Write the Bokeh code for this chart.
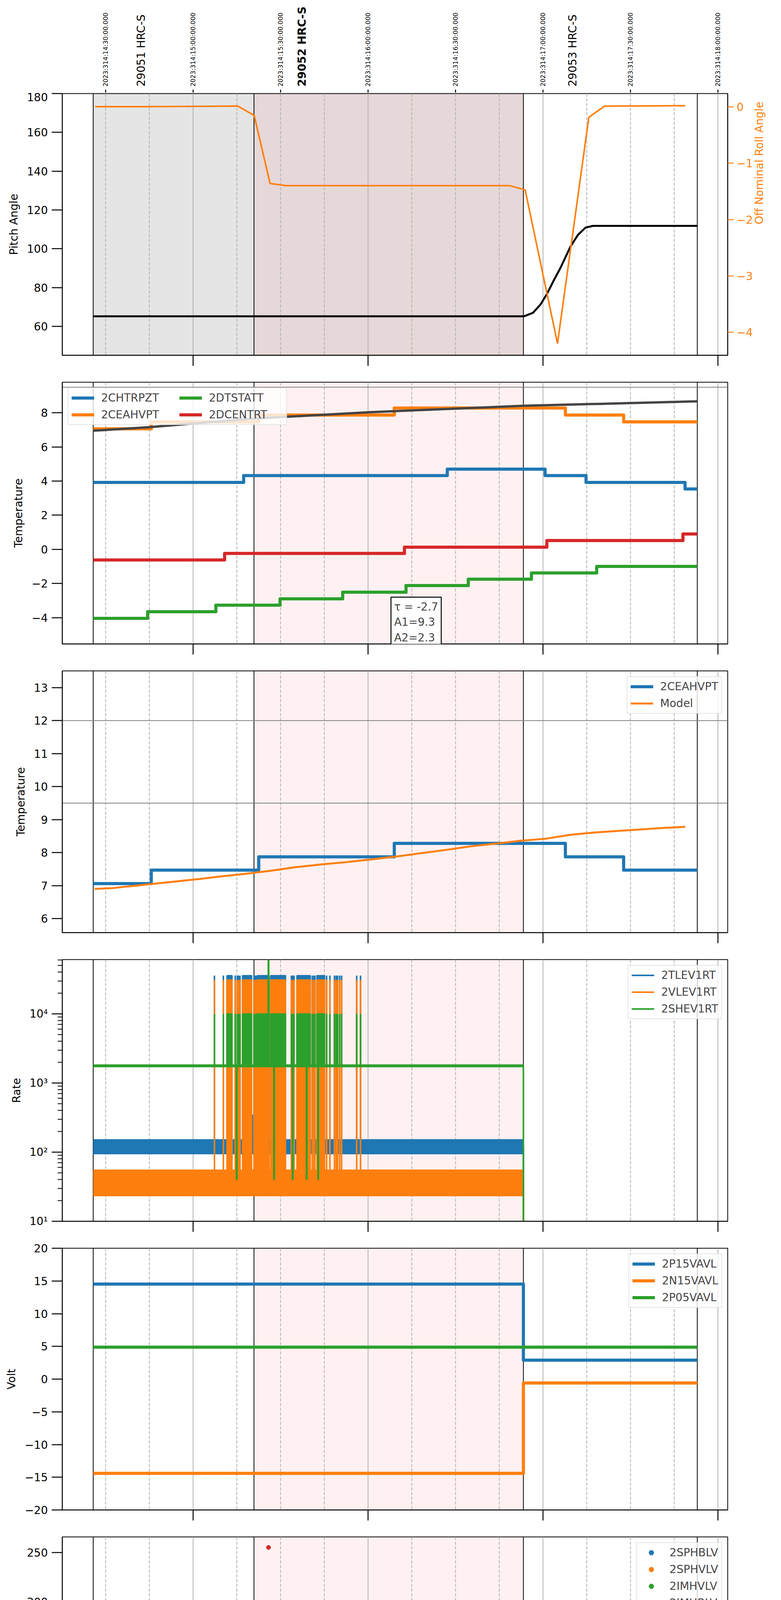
import math
from bokeh.plotting import figure
from bokeh.layouts import column
from bokeh.models import (Range1d, LinearAxis, FixedTicker, Span, BoxAnnotation,
                          Label, Legend, LegendItem)
from bokeh.core.properties import value
from bokeh.embed import file_html
from bokeh.resources import INLINE

FONT = "DejaVu Sans"
BLUE, ORANGE, GREEN, RED = "#1f77b4", "#ff7f0e", "#2ca02c", "#d62728"
GRID = "#b0b0b0"

# ---- time axis: hours of local time (UTC-5) ----
X_RANGE = (9.2522, 13.0558)
T_START, OBS_START, OBS_END, T_END = 9.429, 10.348, 11.888, 12.882
HOUR_TICKS = [10, 11, 12, 13]
HOUR_LABELS = ["10h", "11h", "12h", "13h"]
QUARTER_TICKS = [9.5, 9.75, 10.25, 10.5, 10.75, 11.25, 11.5, 11.75, 12.25, 12.5, 12.75]
QUARTER_LABELS = ["30", "45", "15", "30", "45", "15", "30", "45", "15", "30", "45"]
UTC_TICKS = [9.5, 10.0, 10.5, 11.0, 11.5, 12.0, 12.5, 13.0]
UTC_LABELS = ["2023:314:14:30:00.000", "2023:314:15:00:00.000", "2023:314:15:30:00.000",
              "2023:314:16:00:00.000", "2023:314:16:30:00.000", "2023:314:17:00:00.000",
              "2023:314:17:30:00.000", "2023:314:18:00:00.000"]
OBSID_NAMES = ["29051 HRC-S", "29052 HRC-S", "29053 HRC-S"]
OBSID_X = [9.703, 10.622, 12.17]
OBSID_BOLD = [False, True, False]
DATE_LABEL = "2023-11-10 (314)"

# ---- panel 1: pitch / roll ----
PITCH_T = [9.429, 11.892, 11.943, 11.986, 12.023, 12.057, 12.1, 12.157, 12.2, 12.243, 12.285, 12.882]
PITCH_V = [65.2, 65.2, 67.0, 71.3, 76.8, 82.9, 90.2, 101.1, 107.2, 110.9, 111.8, 111.8]
ROLL_T = [9.44, 9.733, 10.255, 10.349, 10.44, 10.532, 11.809, 11.898, 12.083, 12.262, 12.351, 12.813]
ROLL_V = [0.0, 0.0, 0.01, -0.155, -1.361, -1.399, -1.399, -1.475, -4.197, -0.189, 0.008, 0.017]

# ---- panel 2: temperatures ----
CHTRPZT_T = [9.429, 10.289, 11.453, 12.012, 12.246, 12.812, 12.882]
CHTRPZT_V = [3.92, 4.32, 4.70, 4.32, 3.92, 3.54, 3.54]
CEAHVPT_T = [9.429, 9.761, 10.375, 11.15, 12.128, 12.461, 12.882]
CEAHVPT_V = [7.06, 7.47, 7.87, 8.28, 7.87, 7.47, 7.47]
DTSTATT_T = [9.429, 9.74, 10.13, 10.497, 10.855, 11.217, 11.573, 11.934, 12.307, 12.882]
DTSTATT_V = [-4.04, -3.65, -3.27, -2.90, -2.51, -2.12, -1.75, -1.38, -1.00, -1.00]
DCENTRT_T = [9.429, 10.18, 11.208, 12.022, 12.80, 12.882]
DCENTRT_V = [-0.62, -0.24, 0.13, 0.52, 0.90, 0.90]
MODEL2_T = [9.429, 9.75, 10.348, 11.0, 11.888, 12.882]
MODEL2_V = [6.95, 7.16, 7.66, 8.03, 8.41, 8.67]
FIT_TAU, FIT_A1, FIT_A2 = -2.7, 9.3, 2.3

# ---- panel 3: 2CEAHVPT vs model ----
MODEL3_T = [9.437, 9.534, 9.619, 9.733, 9.876, 10.018, 10.161, 10.304, 10.446, 10.589,
            10.731, 10.874, 11.016, 11.159, 11.302, 11.444, 11.587, 11.729, 11.872, 12.015,
            12.157, 12.3, 12.442, 12.585, 12.699, 12.813]
MODEL3_V = [6.90, 6.92, 6.97, 7.03, 7.11, 7.19, 7.28, 7.36, 7.45, 7.56,
            7.64, 7.71, 7.79, 7.88, 7.98, 8.08, 8.19, 8.27, 8.36, 8.42,
            8.54, 8.61, 8.66, 8.71, 8.75, 8.78]

# ---- panel 4: rates (noise envelopes, bursts, spikes) ----
RATE_T = [9.429, 11.888]
TLEV1RT_LO, TLEV1RT_HI, TLEV1RT_TOP = [93, 93], [154, 154], 3.58e4
VLEV1RT_LO, VLEV1RT_HI, VLEV1RT_TOP = [23, 23], [56, 56], 3.1e4
SHEV1RT_LO, SHEV1RT_HI, SHEV1RT_TOP = [1690, 1690], [1860, 1860], 1.0e4
RATE_BURST_L = [10.193, 10.282, 10.367, 10.443, 10.593, 10.707]
RATE_BURST_R = [10.223, 10.335, 10.435, 10.529, 10.67, 10.752]
RATE_SPIKES = [10.122, 10.173, 10.241, 10.253, 10.26, 10.268, 10.348, 10.355, 10.361,
               10.562, 10.57, 10.577, 10.681, 10.69, 10.696, 10.763, 10.782, 10.808,
               10.818, 10.826, 10.838, 10.849, 10.935, 10.957]
SHEV_DROPS = [10.249, 10.463, 10.569, 10.649, 10.715]
SHEV_DROP_V = 40
SHEV_JUMP_T, SHEV_JUMP_V = [10.431], 1.0e5
TLEV_BUMP_T, TLEV_BUMP_V = [10.339], 350

# ---- panel 5: voltages ----
P15_T, P15_V = [9.429, 11.888, 12.882], [14.52, 2.89, 2.89]
N15_T, N15_V = [9.429, 11.888, 12.882], [-14.4, -0.59, -0.59]
P05_T, P05_V = [9.429, 12.882], [4.88, 4.88]

# ---- panel 6: HV monitors ----
SPHBLV_T, SPHBLV_V = [9.429, 11.888], [77.5, 77.5]
SPHVLV_T, SPHVLV_V = [9.429, 11.888], [70.8, 70.8]
SPHVLV_HI_T = [10.246, 10.261, 10.304, 10.318, 10.352, 10.418, 10.446, 10.463,
               10.503, 10.526, 10.623, 10.631, 10.731]
SPHVLV_HI_V = [127] * len(SPHVLV_HI_T)
IMHVLV_T, IMHVLV_V = [9.429, 11.888], [-10, -10]   # below the plotted range
IMHBLV_T, IMHBLV_V = [10.431], [255.3]

# ---- panel 7/8: detector and FEA temperatures ----
TEMP_BURST_L = [10.195, 10.232, 10.558, 10.799]
TEMP_BURST_R = [10.228, 10.536, 10.748, 10.836]
TEMP_SPIKES = [10.124, 10.173]
OFF_LOW, OFF_HIGH = -30, 30

SPINATM_T = [9.429, 9.976, 11.664, 11.888, 11.895]
SPINATM_V = [2.37, 2.80, 3.25, OFF_LOW, OFF_LOW]
SPINATM_BURST = (-3.0, 2.84)
SPHVATM_T = [9.429, 9.5, 9.722, 9.981, 10.744, 11.273, 11.888, 11.895]
SPHVATM_V = [17.86, 18.15, 18.45, 18.75, 19.31, 19.60, OFF_LOW, OFF_LOW]
SPHVATM_BURST = (10.5, 18.75)
SPHVATM_DROPS = [10.569, 10.649]
IMINATM_T = [9.429, 10.33, 11.627, 11.888, 11.895]
IMINATM_V = [0.27, 0.70, 1.12, OFF_LOW, OFF_LOW]
IMINATM_BURST = (0.3, 2.9)
IMINATM_DROPS = [10.569, 10.649]
IMHVATM_T = [9.429, 9.67, 10.09, 10.616, 11.214, 11.888, 11.894, 11.9]
IMHVATM_V = [15.02, 15.26, 15.55, 15.88, 16.14, OFF_HIGH, OFF_LOW, OFF_LOW]
IMHVATM_BURST = (15.55, 19.06)
IMHVATM_DROPS = [10.431]

FHTRMZT_T = [9.429, 9.563, 9.75, 9.955, 10.16, 10.39, 10.60, 10.83, 11.054, 11.297,
             11.545, 11.804, 12.245, 12.5, 12.766, 12.882]
FHTRMZT_V = [-4.82, -4.42, -4.03, -3.63, -3.24, -2.89, -2.50, -2.11, -1.72, -1.35,
             -0.98, -0.58, -0.98, -1.35, -1.74, -1.74]
FRADPYT_T = [9.429, 9.47, 9.696, 9.927, 10.16, 10.409, 10.629, 10.864, 11.109, 11.379,
             11.652, 12.33, 12.589, 12.882]
FRADPYT_V = [-7.60, -7.19, -6.81, -6.40, -6.00, -5.61, -5.21, -4.82, -4.44, -4.05,
             -3.66, -4.05, -4.44, -4.44]
FEPRATM_T = [9.429, 9.47, 9.671, 9.89, 10.1, 10.745, 10.865, 11.142, 11.43, 11.735, 11.888, 11.895]
FEPRATM_V = [-1.82, -1.40, -1.00, -0.58, -0.16, 0.69, 1.10, 1.50, 1.92, 2.40, OFF_LOW, OFF_LOW]
FEPRATM_BURST_LOW = -4.62
FEPRATM_BURST_TOP = [-0.16, -0.16, -0.16, 0.69]
FEPRATM_SPIKES = [10.124]
FE00ATM_T = [9.429, 9.449, 9.59, 9.785, 9.904, 10.08, 10.234, 10.443, 10.614, 10.794,
             10.979, 11.159, 11.359, 11.558, 11.786, 11.888, 11.894, 11.9]
FE00ATM_V = [-2.11, -1.74, -1.44, -1.18, -0.79, -0.45, -0.24, 0.12, 0.50, 0.82,
             1.15, 1.45, 1.76, 2.05, 2.37, OFF_HIGH, OFF_LOW, OFF_LOW]
FE00_BURST_L = [10.186, 10.234, 10.443, 10.558, 10.614, 10.799]
FE00_BURST_R = [10.230, 10.443, 10.532, 10.614, 10.748, 10.836]
FE00_BURST_BOTTOM = [-0.45, -0.24, 0.12, 0.12, 0.50, 0.82]
FE00_DROPS = [10.249, 10.431, 10.569, 10.649, 10.715]


def fmt(v, nd=0):
    return f"{v:.{nd}f}".replace("-", "\u2212")


def style_axis(ax, tick_out, font_size="28px", color="black"):
    ax.axis_line_color = "black"
    ax.axis_line_width = 2
    ax.major_tick_out = tick_out
    ax.major_tick_in = 0
    ax.major_tick_line_width = 2.5
    ax.major_tick_line_color = color
    ax.minor_tick_out = 0
    ax.minor_tick_in = 0
    ax.major_label_text_font = FONT
    ax.major_label_text_font_size = font_size
    ax.major_label_text_color = color
    ax.major_label_standoff = 10
    ax.axis_label_text_font = FONT
    ax.axis_label_text_font_size = "28px"
    ax.axis_label_text_font_style = "normal"
    ax.axis_label_text_color = color
    ax.axis_label_standoff = 14


def panel(ylabel, y_range, yticks, ylabels, top=34, bottom=35, log=False, first=False):
    p = figure(frame_width=1704, frame_height=670, x_range=Range1d(*X_RANGE),
               y_range=Range1d(*y_range), y_axis_type="log" if log else "linear",
               title=None, output_backend="svg", toolbar_location=None,
               min_border_left=159, min_border_right=20,
               min_border_top=top, min_border_bottom=bottom)
    p.grid.visible = False
    p.outline_line_color = "black"
    p.outline_line_width = 2
    p.outline_line_alpha = 1.0

    xa = p.xaxis[0]
    style_axis(xa, 27)
    xa.ticker = FixedTicker(ticks=HOUR_TICKS)
    xa.major_label_text_font_size = "1px"
    xa.major_label_text_color = None
    xa.major_label_standoff = 0

    ya = p.yaxis[0]
    style_axis(ya, 27)
    ya.ticker = FixedTicker(ticks=yticks)
    ya.major_label_overrides = dict(zip(yticks, ylabels))
    ya.axis_label = ylabel

    if first:
        p.add_layout(BoxAnnotation(left=T_START, right=OBS_END, fill_color="black",
                                   fill_alpha=0.1, line_color=None, level="underlay"))
    p.add_layout(BoxAnnotation(left=OBS_START, right=OBS_END, fill_color="red",
                               fill_alpha=0.055, line_color=None, level="underlay"))
    for t in HOUR_TICKS:
        p.add_layout(Span(location=t, dimension="height", line_color=GRID,
                          line_width=2, level="underlay"))
    for t in QUARTER_TICKS:
        p.add_layout(Span(location=t, dimension="height", line_color=GRID,
                          line_width=2, line_dash="8 4", level="underlay"))
    for t in (T_START, OBS_START, OBS_END, T_END):
        p.add_layout(Span(location=t, dimension="height", line_color="black",
                          line_width=2, level="underlay"))
    return p


def steps(p, xs, ys, color, width=8):
    return p.step(xs, ys, mode="after", line_color=color, line_width=width,
                  line_join="round")


def add_legend(p, items, location="top_right", ncols=1, label_width=20):
    lg = Legend(items=[LegendItem(label=k, renderers=[r]) for k, r in items],
                location=location, ncols=ncols)
    lg.label_text_font = FONT
    lg.label_text_font_size = "28px"
    lg.glyph_width = 58
    lg.glyph_height = 31
    lg.label_height = 31
    lg.label_width = label_width
    lg.label_standoff = 18
    lg.spacing = 10
    lg.padding = 8
    lg.margin = 14
    lg.border_line_color = "#cccccc"
    lg.border_line_width = 2
    lg.background_fill_alpha = 0.8
    p.add_layout(lg)


def hline(p, y):
    p.add_layout(Span(location=y, dimension="width", line_color="#808080",
                      line_width=2, level="underlay"))


# ================= header: UTC time labels and obsids above panel 1 =================
HEAD_H = 237
head = figure(frame_width=1704, frame_height=HEAD_H, x_range=Range1d(*X_RANGE),
              y_range=Range1d(0, HEAD_H), title=None, output_backend="svg",
              toolbar_location=None, x_axis_location=None, y_axis_location=None,
              min_border_left=159, min_border_right=20, min_border_top=0, min_border_bottom=0)
head.grid.visible = False
head.outline_line_color = None
head.segment(x0=UTC_TICKS, y0=0, x1=UTC_TICKS, y1=8, line_color="black", line_width=2.5)
head.text(x=UTC_TICKS, y=16, text=UTC_LABELS, angle=math.pi / 2, text_align="left",
          text_baseline="middle", text_font=value(FONT), text_font_size="16px",
          text_color="black")
for name, x, bold in zip(OBSID_NAMES, OBSID_X, OBSID_BOLD):
    head.text(x=[x], y=16, text=[name], angle=math.pi / 2, text_align="left",
              text_baseline="middle", text_font=value(FONT), text_font_size="28px",
              text_font_style="bold" if bold else "normal", text_color="black")

# ================= panel 1 =================
pt = [60, 80, 100, 120, 140, 160, 180]
p1 = panel("Pitch Angle", (45.1, 180), pt, [fmt(t) for t in pt], top=2, first=True)
p1.line(PITCH_T, PITCH_V, line_color="black", line_width=5)
p1.extra_y_ranges = {"roll": Range1d(-4.405, 0.232)}
rt = [0, -1, -2, -3, -4]
ra = LinearAxis(y_range_name="roll", axis_label="Off Nominal Roll Angle")
style_axis(ra, 15, color=ORANGE)
ra.major_label_standoff = 8
ra.ticker = FixedTicker(ticks=rt)
ra.major_label_overrides = {t: fmt(t) for t in rt}
if hasattr(ra, "axis_label_orientation"):
    ra.axis_label_orientation = math.pi / 2
p1.add_layout(ra, "right")
p1.line(ROLL_T, ROLL_V, line_color=ORANGE, line_width=4, y_range_name="roll")

# ================= panel 2 =================
t2 = [-4, -2, 0, 2, 4, 6, 8]
p2 = panel("Temperature", (-5.54, 9.79), t2, [fmt(t) for t in t2])
hline(p2, 9.5)
r2a = steps(p2, CHTRPZT_T, CHTRPZT_V, BLUE)
r2b = steps(p2, CEAHVPT_T, CEAHVPT_V, ORANGE)
r2c = steps(p2, DTSTATT_T, DTSTATT_V, GREEN)
r2d = steps(p2, DCENTRT_T, DCENTRT_V, RED)
p2.line(MODEL2_T, MODEL2_V, line_color="#444444", line_width=6)
add_legend(p2, [("2CHTRPZT", r2a), ("2CEAHVPT", r2b), ("2DTSTATT", r2c), ("2DCENTRT", r2d)],
           location="top_left", ncols=2, label_width=190)
p2.add_layout(Label(x=11.131, y=-2.80,
                    text=f"\u03c4 = {FIT_TAU}\nA1={FIT_A1}\nA2={FIT_A2}",
                    text_font=FONT, text_font_size="28px", text_align="left",
                    text_baseline="top", background_fill_color="white",
                    border_line_color="black", border_line_width=2.5, padding=8))

# ================= panel 3 =================
t3 = [6, 7, 8, 9, 10, 11, 12, 13]
p3 = panel("Temperature", (5.575, 13.505), t3, [fmt(t) for t in t3])
hline(p3, 12)
hline(p3, 9.5)
r3a = steps(p3, CEAHVPT_T, CEAHVPT_V, BLUE)
r3b = p3.line(MODEL3_T, MODEL3_V, line_color=ORANGE, line_width=5)
add_legend(p3, [("2CEAHVPT", r3a), ("Model", r3b)])

# ================= panel 4 =================
t4 = [10, 100, 1000, 10000]
p4 = panel("Rate", (10, 6.1e4), t4, ["10\u00b9", "10\u00b2", "10\u00b3", "10\u2074"], log=True)
log_minor = [m * 10 ** k for k in range(1, 5) for m in range(2, 10) if m * 10 ** k < 6.1e4]
p4.yaxis[0].ticker = FixedTicker(ticks=t4, minor_ticks=log_minor)
p4.yaxis[0].minor_tick_out = 12
p4.yaxis[0].minor_tick_line_width = 2
leg4 = []
for name, col, lo, hi, top in [("2TLEV1RT", BLUE, TLEV1RT_LO, TLEV1RT_HI, TLEV1RT_TOP),
                               ("2VLEV1RT", ORANGE, VLEV1RT_LO, VLEV1RT_HI, VLEV1RT_TOP),
                               ("2SHEV1RT", GREEN, SHEV1RT_LO, SHEV1RT_HI, SHEV1RT_TOP)]:
    mid = (lo[0] * hi[0]) ** 0.5
    p4.varea(x=RATE_T, y1=lo, y2=hi, fill_color=col)
    p4.quad(left=RATE_BURST_L, right=RATE_BURST_R, bottom=mid, top=top,
            fill_color=col, line_color=col, line_width=3)
    r = p4.segment(x0=RATE_SPIKES, y0=mid, x1=RATE_SPIKES, y1=top, line_color=col, line_width=4)
    p4.segment(x0=[OBS_END], y0=mid, x1=[OBS_END], y1=1, line_color=col, line_width=4)
    if name == "2TLEV1RT":
        p4.segment(x0=TLEV_BUMP_T, y0=mid, x1=TLEV_BUMP_T, y1=TLEV_BUMP_V, line_color=col, line_width=4)
    if name == "2SHEV1RT":
        p4.segment(x0=SHEV_DROPS, y0=mid, x1=SHEV_DROPS, y1=SHEV_DROP_V, line_color=col, line_width=5)
        p4.segment(x0=SHEV_JUMP_T, y0=mid, x1=SHEV_JUMP_T, y1=SHEV_JUMP_V, line_color=col, line_width=5)
    leg4.append((name, r))
add_legend(p4, leg4)

# ================= panel 5 =================
t5 = [-20, -15, -10, -5, 0, 5, 10, 15, 20]
p5 = panel("Volt", (-20, 20), t5, [fmt(t) for t in t5])
r5a = steps(p5, P15_T, P15_V, BLUE)
r5b = steps(p5, N15_T, N15_V, ORANGE)
r5c = steps(p5, P05_T, P05_V, GREEN)
add_legend(p5, [("2P15VAVL", r5a), ("2N15VAVL", r5b), ("2P05VAVL", r5c)])

# ================= panel 6 =================
t6 = [0, 50, 100, 150, 200, 250]
p6 = panel("HV Monitor", (0, 266), t6, [fmt(t) for t in t6])
p6.line(SPHBLV_T, SPHBLV_V, line_color=BLUE, line_width=13, line_cap="round")
r6a = p6.scatter(SPHBLV_T, SPHBLV_V, color=BLUE, size=12)
p6.line(SPHVLV_T, SPHVLV_V, line_color=ORANGE, line_width=11, line_cap="round")
r6b = p6.scatter(SPHVLV_HI_T, SPHVLV_HI_V, color=ORANGE, size=11)
r6c = p6.scatter(IMHVLV_T, IMHVLV_V, color=GREEN, size=11)
r6d = p6.scatter(IMHBLV_T, IMHBLV_V, color=RED, size=11)
add_legend(p6, [("2SPHBLV", r6a), ("2SPHVLV", r6b), ("2IMHVLV", r6c), ("2IMHBLV", r6d)])

# ================= panel 7 =================
t7 = [0, 2.5, 5, 7.5, 10, 12.5, 15, 17.5, 20]
p7 = panel("Detector Temp", (-1.26, 21.08), t7, [fmt(t, 1) for t in t7])
leg7 = []
for name, col, xs, ys, (blo, bhi), drops in [
        ("2SPINATM", BLUE, SPINATM_T, SPINATM_V, SPINATM_BURST, []),
        ("2SPHVATM", ORANGE, SPHVATM_T, SPHVATM_V, SPHVATM_BURST, SPHVATM_DROPS),
        ("2IMINATM", GREEN, IMINATM_T, IMINATM_V, IMINATM_BURST, IMINATM_DROPS),
        ("2IMHVATM", RED, IMHVATM_T, IMHVATM_V, IMHVATM_BURST, IMHVATM_DROPS)]:
    p7.quad(left=TEMP_BURST_L, right=TEMP_BURST_R, bottom=blo, top=bhi,
            fill_color=col, line_color=col, line_width=8)
    p7.segment(x0=TEMP_SPIKES, y0=blo, x1=TEMP_SPIKES, y1=bhi, line_color=col, line_width=8)
    if drops:
        p7.segment(x0=drops, y0=bhi, x1=drops, y1=OFF_LOW, line_color=col, line_width=8)
    leg7.append((name, steps(p7, xs, ys, col)))
add_legend(p7, leg7)

# ================= panel 8 =================
t8 = [-6, -4, -2, 0, 2]
p8 = panel("FEA Temp", (-7.915, 3.02), t8, [fmt(t) for t in t8], bottom=0)
r8a = steps(p8, FHTRMZT_T, FHTRMZT_V, BLUE)
r8b = steps(p8, FRADPYT_T, FRADPYT_V, ORANGE)
p8.quad(left=TEMP_BURST_L, right=TEMP_BURST_R, bottom=FEPRATM_BURST_LOW, top=FEPRATM_BURST_TOP,
        fill_color=GREEN, line_color=GREEN, line_width=8)
p8.segment(x0=FEPRATM_SPIKES, y0=FEPRATM_BURST_LOW, x1=FEPRATM_SPIKES, y1=-0.59,
           line_color=GREEN, line_width=8)
r8c = steps(p8, FEPRATM_T, FEPRATM_V, GREEN)
p8.quad(left=FE00_BURST_L, right=FE00_BURST_R, bottom=FE00_BURST_BOTTOM, top=OFF_HIGH,
        fill_color=RED, line_color=RED, line_width=8)
p8.segment(x0=TEMP_SPIKES, y0=-0.45, x1=TEMP_SPIKES, y1=OFF_HIGH, line_color=RED, line_width=8)
p8.segment(x0=FE00_DROPS, y0=0.0, x1=FE00_DROPS, y1=OFF_LOW, line_color=RED, line_width=8)
r8d = steps(p8, FE00ATM_T, FE00ATM_V, RED)
add_legend(p8, [("2FHTRMZT", r8a), ("2FRADPYT", r8b), ("2FEPRATM", r8c), ("2FE00ATM", r8d)])

xa8 = p8.xaxis[0]
xa8.ticker = FixedTicker(ticks=QUARTER_TICKS, minor_ticks=HOUR_TICKS)
xa8.major_label_overrides = dict(zip(QUARTER_TICKS, QUARTER_LABELS))
xa8.major_label_text_font_size = "17px"
xa8.major_label_text_color = "black"
xa8.major_label_standoff = -18
xa8.major_tick_out = 8
xa8.minor_tick_out = 29
xa8.minor_tick_line_width = 2.5
xa8.minor_tick_line_color = "black"
hb = LinearAxis(ticker=FixedTicker(ticks=HOUR_TICKS),
                major_label_overrides=dict(zip(HOUR_TICKS, HOUR_LABELS)),
                axis_label=DATE_LABEL)
style_axis(hb, 0)
hb.axis_line_color = None
hb.major_tick_line_color = None
hb.minor_tick_line_color = None
hb.major_label_standoff = 2
hb.axis_label_standoff = 4
hb.axis_label_text_font_size = "33px"
p8.add_layout(hb, "below")

layout = column(head, p1, p2, p3, p4, p5, p6, p7, p8)
open("out.html", "w").write(file_html(layout, INLINE))
